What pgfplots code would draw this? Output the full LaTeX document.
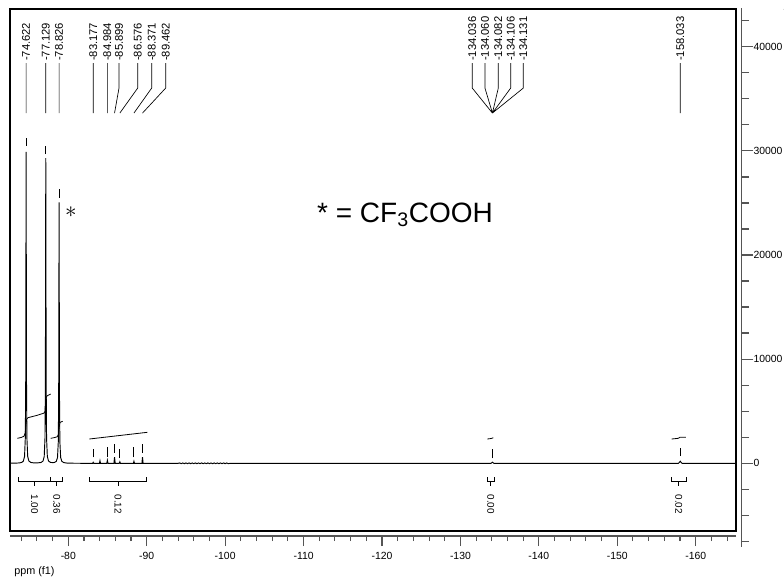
\documentclass[border=0pt]{standalone}
\usepackage{pgfplots}
\pgfplotsset{compat=1.18}
\usepackage{fontspec}
\setmainfont{Liberation Sans}
\definecolor{axgray}{RGB}{85,85,85}
\begin{document}
\begin{tikzpicture}
\useasboundingbox (0,0) rectangle (588pt,-433.5pt);
% ---------------- main frame with spectrum ----------------
\begin{axis}[
  at={(7.5pt,-398.25pt)}, anchor=south west,
  scale only axis, width=544.5pt, height=391.5pt,
  xmin=-165.14, xmax=-72.566, x dir=reverse,
  ymin=-6500, ymax=43620,
  xtick=\empty, ytick=\empty,
  axis line style={black, line width=0.9pt},
  unbounded coords=jump,
]
% spectrum
\addplot[black, line width=0.7pt] coordinates {
(-72.566,8) (-73.2,14) (-73.8,40) (-74.1,100) (-74.272,218) (-74.422,660) (-74.522,2475)
(-74.572,7930) (-74.602,20695) (-74.622,29905) (-74.642,20695) (-74.672,7930) (-74.722,2475)
(-74.822,662) (-74.972,225) (-75.222,83) (-75.622,38) (-76.0,35) (-76.529,80) (-76.779,220)
(-76.929,650) (-77.029,2428) (-77.079,7770) (-77.109,20270) (-77.129,29290) (-77.149,20270)
(-77.179,7770) (-77.229,2428) (-77.329,652) (-77.479,224) (-77.729,85) (-77.98,70) (-78.226,78)
(-78.476,195) (-78.626,560) (-78.726,2078) (-78.776,6647) (-78.806,17344) (-78.826,25059)
(-78.846,17344) (-78.876,6645) (-78.926,2077) (-79.026,559) (-79.176,190) (-79.426,68)
(-79.826,24) (-80.326,12) (-81.0,6) (-82.0,0) (-83.0,0)
(-83.1,0) (-83.177,100) (-83.25,0) (-83.97,0) (-84.04,250) (-84.11,0) (-84.91,0) (-84.984,300)
(-85.06,0) (-85.82,0) (-85.899,600) (-85.98,0) (-86.5,0) (-86.576,150) (-86.65,0) (-88.3,0)
(-88.371,200) (-88.44,0) (-89.39,0) (-89.462,600) (-89.54,0)
(-94.0,0) (-94.2,35) (-94.4,-35) (-94.6,35) (-94.8,-35) (-95.0,35) (-95.2,-35) (-95.4,35)
(-95.6,-35) (-95.8,35) (-96.0,-35) (-96.2,35) (-96.4,-35) (-96.6,35) (-96.8,-35) (-97.0,35)
(-97.2,-35) (-97.4,35) (-97.6,-35) (-97.8,35) (-98.0,-35) (-98.2,35) (-98.4,-35) (-98.6,35)
(-98.8,-35) (-99.0,35) (-99.2,-35) (-99.4,35) (-99.6,-35) (-99.8,35) (-100.0,-35) (-100.2,35)
(-100.4,-35) (-100.65,0)
(-133.9,0) (-134.0,60) (-134.08,110) (-134.16,60) (-134.26,0)
(-157.8,0) (-157.93,100) (-158.033,200) (-158.13,100) (-158.27,0) (-165.14,0)
};
% integral curves
\addplot[black, line width=0.6pt] coordinates {
(-73.497,2400) (-74.0,2480) (-74.35,2600) (-74.5,2900) (-74.57,3400) (-74.622,3800) (-74.68,4200)
(-74.85,4380) (-76.0,4600) (-76.9,4820) (-77.05,5000) (-77.1,5500) (-77.129,5900) (-77.17,6300)
(-77.3,6480) (-77.756,6653)
(0,nan)
(-77.756,2400) (-78.3,2480) (-78.6,2560) (-78.76,2800) (-78.826,3300) (-78.9,3800) (-79.0,3950) (-79.286,4032)
(0,nan)
(-82.678,2333) (-90.073,2976)
(0,nan)
(-133.43,2333) (-133.9,2380) (-134.08,2420) (-134.19,2458)
(0,nan)
(-156.94,2333) (-157.78,2400) (-157.99,2496) (-158.76,2496)
};
% integral brackets
\addplot[black, line width=0.6pt] coordinates {
(-73.624,-1344) (-73.624,-1766) (-77.756,-1766) (-77.756,-1344) (0,nan) (-75.69,-1766) (-75.69,-2179) (0,nan)
(-77.756,-1766) (-79.286,-1766) (-79.286,-1344) (0,nan) (-78.52,-1766) (-78.52,-2179) (0,nan)
(-82.678,-1344) (-82.678,-1766) (-89.997,-1766) (-89.997,-1344) (0,nan) (-86.34,-1766) (-86.34,-2179) (0,nan)
(-133.48,-1344) (-133.48,-1766) (-134.28,-1766) (-134.28,-1344) (0,nan) (-133.88,-1766) (-133.88,-2179) (0,nan)
(-156.94,-1344) (-156.94,-1766) (-158.76,-1766) (-158.76,-1344) (0,nan) (-157.85,-1766) (-157.85,-2179)
};
% peak markers
\addplot[black, line width=0.7pt] coordinates {
(-74.622,30490) (-74.622,31258) (0,nan)
(-77.129,29693) (-77.129,30490) (0,nan)
(-78.826,25498) (-78.826,26333) (0,nan)
(-83.177,576) (-83.177,1373) (0,nan)
(-84.984,634) (-84.984,1594) (0,nan)
(-85.899,1018) (-85.899,1853) (0,nan)
(-86.576,509) (-86.576,1373) (0,nan)
(-88.371,576) (-88.371,1594) (0,nan)
(-89.462,1018) (-89.462,1853) (0,nan)
(-158.033,700) (-158.033,1440)
};
\addplot[black, line width=1.2pt] coordinates {(-134.08,480) (-134.08,1344)};
% leader lines
\addplot[black, line width=0.5pt] coordinates {
(-74.622,38429) (-74.622,33629) (0,nan)
(-77.129,38429) (-77.129,33629) (0,nan)
(-78.826,38429) (-78.826,33629) (0,nan)
(-83.177,38429) (-83.177,33629) (0,nan)
(-84.984,38429) (-84.984,33629) (0,nan)
(-86.465,38429) (-86.465,36029) (-85.899,33629) (0,nan)
(-88.849,38429) (-88.849,36029) (-86.576,33629) (0,nan)
(-90.634,38429) (-90.634,36029) (-88.371,33629) (0,nan)
(-92.42,38429) (-92.42,36029) (-89.462,33629) (0,nan)
(-131.51,38429) (-131.51,36029) (-134.08,33629) (0,nan)
(-133.13,38429) (-133.13,36029) (-134.08,33629) (0,nan)
(-134.83,38429) (-134.83,36029) (-134.08,33629) (0,nan)
(-136.41,38429) (-136.41,36029) (-134.08,33629) (0,nan)
(-138.02,38429) (-138.02,36029) (-134.08,33629) (0,nan)
(-158.033,38429) (-158.033,33629)
};
% peak labels
\begin{scope}[every node/.style={rotate=90, anchor=west, inner sep=1.5pt, font=\fontsize{8.4}{10}\selectfont}]
\node at (axis cs:-74.622,38429) {-74.622};
\node at (axis cs:-77.129,38429) {-77.129};
\node at (axis cs:-78.826,38429) {-78.826};
\node at (axis cs:-83.177,38429) {-83.177};
\node at (axis cs:-84.984,38429) {-84.984};
\node at (axis cs:-86.465,38429) {-85.899};
\node at (axis cs:-88.849,38429) {-86.576};
\node at (axis cs:-90.634,38429) {-88.371};
\node at (axis cs:-92.42,38429) {-89.462};
\node at (axis cs:-131.51,38429) {-134.036};
\node at (axis cs:-133.13,38429) {-134.060};
\node at (axis cs:-134.83,38429) {-134.082};
\node at (axis cs:-136.41,38429) {-134.106};
\node at (axis cs:-138.02,38429) {-134.131};
\node at (axis cs:-158.033,38429) {-158.033};
\end{scope}
% integral values
\begin{scope}[every node/.style={rotate=-90, anchor=west, inner sep=0pt, font=\fontsize{7.4}{9}\selectfont}]
\node at (axis cs:-75.69,-2976) {1.00};
\node at (axis cs:-78.52,-2976) {0.36};
\node at (axis cs:-86.34,-2976) {0.12};
\node at (axis cs:-133.88,-2976) {0.00};
\node at (axis cs:-157.85,-2976) {0.02};
\end{scope}
\node[font=\fontsize{19}{22}\selectfont, inner sep=0pt] at (axis cs:-80.32,24077) {$\ast$};
\node[font=\fontsize{21}{25}\selectfont, inner sep=0pt] at (axis cs:-122.93,23837) {* = CF\textsubscript{3}COOH};
\end{axis}
% ---------------- bottom ppm axis ----------------
\begin{axis}[
  at={(7.5pt,-402pt)}, anchor=south west,
  scale only axis, width=544.5pt, height=10pt,
  xmin=-165.14, xmax=-72.566, x dir=reverse,
  ymin=0, ymax=1,
  axis x line=bottom, axis y line=none,
  x axis line style={-, draw=axgray, line width=1.1pt},
  xtick={-160,-150,-140,-130,-120,-110,-100,-90,-80},
  xticklabels={-160,-150,-140,-130,-120,-110,-100,-90,-80},
  minor xtick={-164,-162,...,-74},
  tick align=outside,
  major tick length=7.5pt, minor tick length=3.75pt,
  every tick/.style={axgray, line width=0.8pt},
  xticklabel style={font=\fontsize{7.8}{9}\selectfont, anchor=north, inner sep=0pt, yshift=-4.5pt},
]
\addplot[draw=none] coordinates {(-100,0.5)};
\end{axis}
% ---------------- right intensity axis ----------------
\begin{axis}[
  at={(556.275pt,-410pt)}, anchor=south east,
  scale only axis, width=100pt, height=403.8pt,
  xmin=0, xmax=1,
  ymin=-8036, ymax=43716,
  axis y line=right, axis x line=none,
  y axis line style={-, draw=axgray, line width=1.1pt},
  ytick={0,10000,20000,30000,40000},
  yticklabels={0,10000,20000,30000,40000},
  minor ytick={-7500,-5000,...,42500},
  tick align=outside,
  major tick length=8.7pt, minor tick length=5.6pt,
  every tick/.style={axgray, line width=0.8pt},
  yticklabel style={font=\fontsize{7.8}{9}\selectfont, anchor=west, inner sep=0pt, xshift=0pt},
]
\addplot[draw=none] coordinates {(0.5,0)};
\end{axis}
\node[anchor=west, inner sep=0pt, font=\fontsize{8.1}{10}\selectfont] at (10.5pt,-428.8pt) {ppm (f1)};
\end{tikzpicture}
\end{document}
